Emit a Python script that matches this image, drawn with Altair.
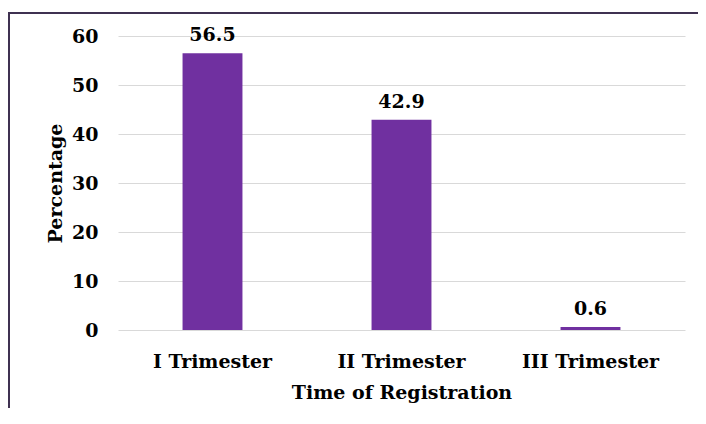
import altair as alt
import pandas as pd

categories = ["I Trimester", "II Trimester", "III Trimester"]
values = [56.5, 42.9, 0.6]
labels = ["56.5", "42.9", "0.6"]

df = pd.DataFrame({"cat": categories, "val": values, "lab": labels})

FONT = "DejaVu Serif"
FS = 19
PURPLE = "#7030a0"

base = alt.Chart(df)

bars = base.mark_bar(color=PURPLE).encode(
    x=alt.X(
        "cat:N",
        sort=categories,
        scale=alt.Scale(paddingInner=0.683, paddingOuter=0.3415),
        axis=alt.Axis(
            title="Time of Registration",
            labelAngle=0,
            ticks=False,
            tickSize=0,
            domain=False,
            grid=False,
            labelPadding=22,
            titlePadding=12,
            labelFont=FONT,
            labelFontSize=FS,
            labelFontWeight="bold",
            labelColor="#000000",
            titleFont=FONT,
            titleFontSize=FS,
            titleFontWeight="bold",
            titleColor="#000000",
        ),
    ),
    y=alt.Y(
        "val:Q",
        scale=alt.Scale(domain=[0, 60], nice=False),
        axis=alt.Axis(
            title="Percentage",
            values=[0, 10, 20, 30, 40, 50, 60],
            ticks=False,
            tickSize=0,
            domain=False,
            grid=True,
            gridColor="#d9d9d9",
            gridWidth=1,
            labelPadding=20,
            titlePadding=6,
            labelFont=FONT,
            labelFontSize=FS,
            labelFontWeight="bold",
            labelColor="#000000",
            titleFont=FONT,
            titleFontSize=FS,
            titleFontWeight="bold",
            titleColor="#000000",
        ),
    ),
)

text = base.mark_text(
    font=FONT, fontSize=FS, fontWeight="bold", color="#000000",
    baseline="alphabetic", dy=-12,
).encode(
    x=alt.X("cat:N", sort=categories),
    y=alt.Y("val:Q"),
    text="lab:N",
)

border = alt.Chart(pd.DataFrame({"a": [0]})).mark_rect(
    fill=None, filled=False, stroke="#3f3151", strokeWidth=2,
).encode(
    x=alt.value(-109), x2=alt.value(800),
    y=alt.value(-23), y2=alt.value(600),
)

chart = alt.layer(bars, text, border).properties(
    width=567,
    height=294,
    autosize=alt.AutoSizeParams(type="none"),
    padding={"left": 110, "top": 28, "right": 13, "bottom": 78},
).configure(background="#ffffff").configure_view(stroke=None)

chart.save("out.html", embed_options={"renderer": "svg", "actions": False})
